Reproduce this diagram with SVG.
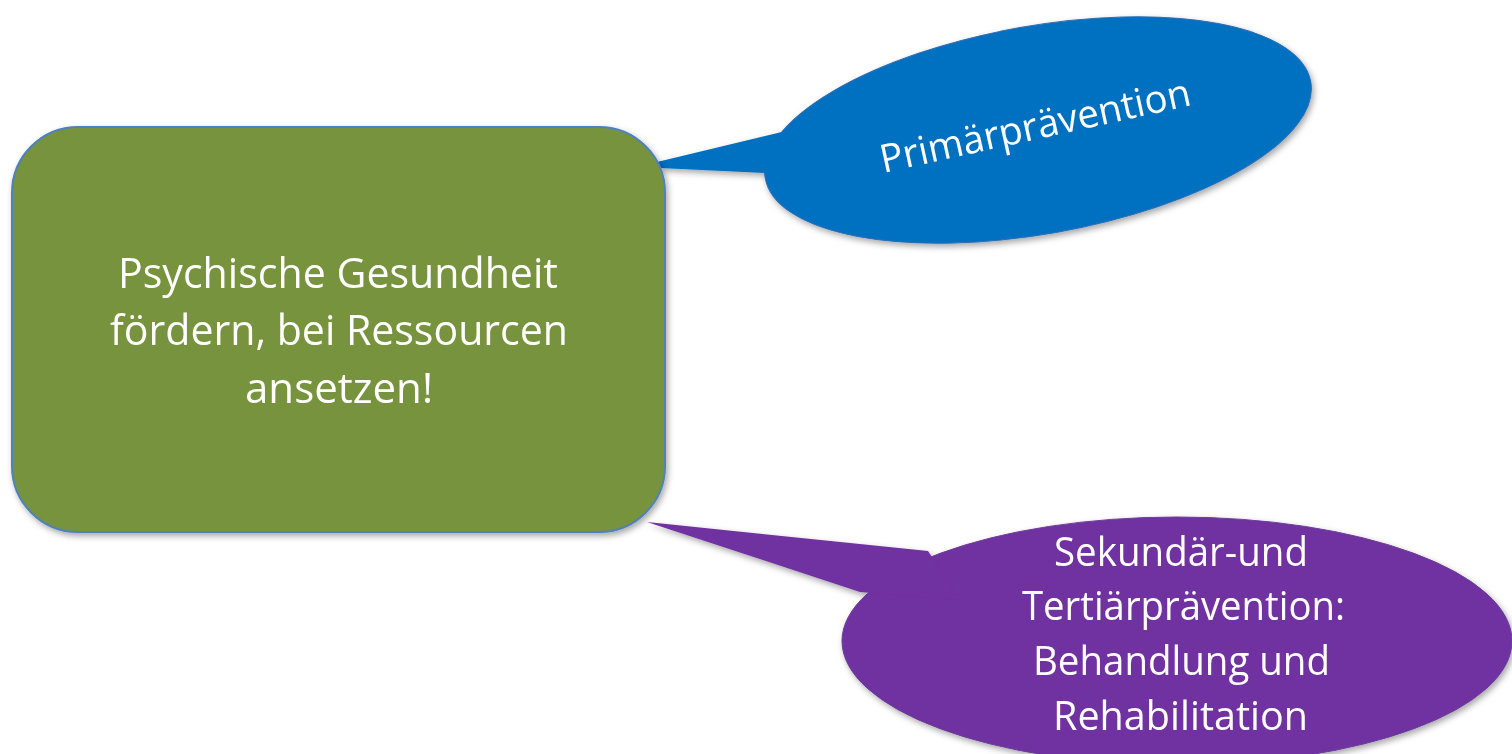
<svg xmlns="http://www.w3.org/2000/svg" width="1512" height="754" viewBox="0 0 1512 754">
  <defs>
    <filter id="shadow" x="-10%" y="-10%" width="125%" height="130%">
      <feDropShadow dx="2" dy="3" stdDeviation="3" flood-color="#000" flood-opacity="0.35"/>
    </filter>
    <style>
      .lbl { font-family: "Open Sans", "Noto Sans", "Liberation Sans", sans-serif; fill: #ffffff; }
      .green { fill: #77933C; stroke: #4F81BD; stroke-width: 2; }
      .blue { fill: #0070C0; }
      .purple { fill: #7030A0; }
    </style>
  </defs>
  <rect width="1512" height="754" fill="#ffffff"/>

  <g id="callout-primaer" filter="url(#shadow)">
    <ellipse class="blue" cx="1038" cy="130" rx="277" ry="104" transform="rotate(-10 1038 130)" stroke="#2F6DB5" stroke-width="1"/>
    <polygon class="blue" points="657,162 790,130 860,150 765,173 660,168"/>
    <text class="lbl" x="1038" y="139" font-size="39" text-anchor="middle" textLength="317" lengthAdjust="spacingAndGlyphs" transform="rotate(-12.4 1038 139)">Primärprävention</text>
  </g>

  <g id="callout-sekundaer" filter="url(#shadow)">
    <ellipse class="purple" cx="1177" cy="641" rx="335" ry="124" stroke="#6A3D99" stroke-width="1"/>
    <polygon class="purple" points="647,522 928,551 960,600 860,592"/>
    <text class="lbl" font-size="40">
      <tspan x="1054" y="566" textLength="254" lengthAdjust="spacingAndGlyphs">Sekundär-und</tspan>
      <tspan x="1022" y="620" textLength="323" lengthAdjust="spacingAndGlyphs">Tertiärprävention:</tspan>
      <tspan x="1033" y="675" textLength="297" lengthAdjust="spacingAndGlyphs">Behandlung und</tspan>
      <tspan x="1053" y="730" textLength="255" lengthAdjust="spacingAndGlyphs">Rehabilitation</tspan>
    </text>
  </g>

  <g id="main-box">
    <rect class="green" x="12" y="127" width="653" height="405" rx="66" ry="66" filter="url(#shadow)"/>
    <text class="lbl" font-size="42">
      <tspan x="118" y="288" textLength="440" lengthAdjust="spacingAndGlyphs">Psychische Gesundheit</tspan>
      <tspan x="110" y="345" textLength="458" lengthAdjust="spacingAndGlyphs">fördern, bei Ressourcen</tspan>
      <tspan x="245" y="403" textLength="188" lengthAdjust="spacingAndGlyphs">ansetzen!</tspan>
    </text>
  </g>

  <g id="connectors"></g>
</svg>
